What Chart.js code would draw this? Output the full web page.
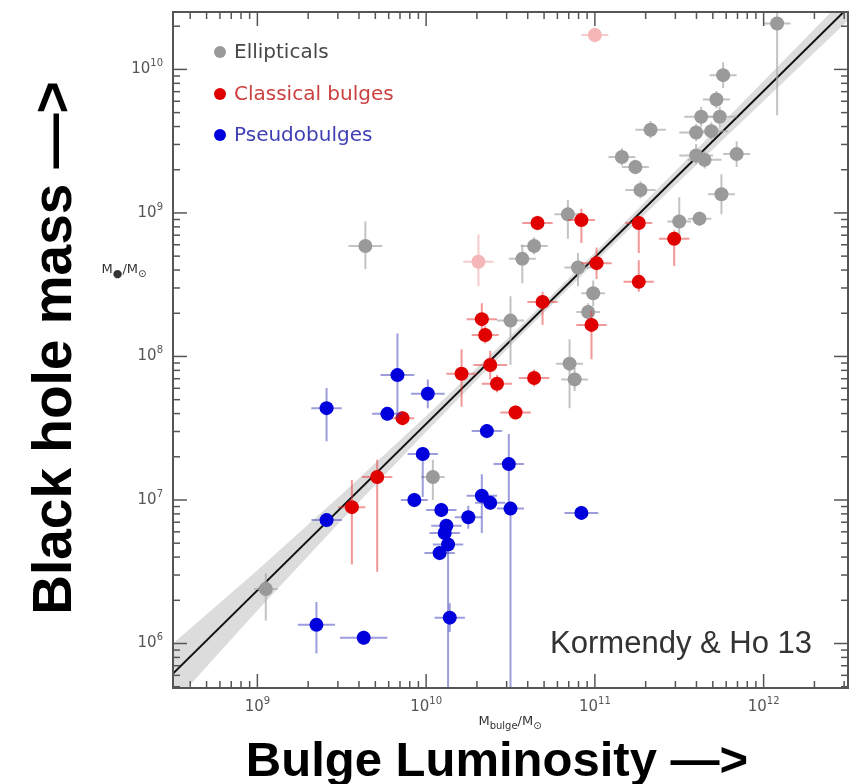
<!DOCTYPE html>
<html>
<head>
<meta charset="utf-8">
<script src="https://cdn.jsdelivr.net/npm/chart.js@4.4.0/dist/chart.umd.min.js"></script>
<style>
  html, body { margin: 0; padding: 0; background: #fff; }
</style>
</head>
<body>
<canvas id="bhChart" width="850" height="784"></canvas>
<script>
// all values are log10 (solar masses)
const ellX  = [12.08, 11.76, 11.72, 11.63, 11.74, 11.33, 11.60, 11.69, 11.84, 11.60, 11.65, 11.16, 11.24, 11.27, 11.75, 11.62, 11.50, 10.84, 10.64, 10.57, 10.90, 10.99, 10.96, 10.50, 10.85, 10.88, 9.64, 10.04, 9.05];
const ellY  = [10.32, 9.96, 9.79, 9.67, 9.67, 9.58, 9.56, 9.57, 9.41, 9.40, 9.37, 9.39, 9.32, 9.16, 9.13, 8.96, 8.94, 8.99, 8.77, 8.68, 8.62, 8.44, 8.31, 8.25, 7.95, 7.84, 8.77, 7.16, 6.38];
const ellXe = [0.08, 0.08, 0.08, 0.10, 0.10, 0.09, 0.10, 0.10, 0.08, 0.10, 0.10, 0.08, 0.08, 0.09, 0.08, 0.07, 0.07, 0.08, 0.08, 0.08, 0.08, 0.07, 0.07, 0.08, 0.08, 0.08, 0.10, 0.07, 0.07];
const ellUp = [0.10, 0.09, 0.06, 0.07, 0.07, 0.06, 0.06, 0.06, 0.09, 0.08, 0.06, 0.06, 0.05, 0.06, 0.14, 0.05, 0.17, 0.10, 0.06, 0.10, 0.10, 0.09, 0.06, 0.17, 0.17, 0.08, 0.17, 0.12, 0.11];
const ellDn = [0.64, 0.09, 0.06, 0.07, 0.07, 0.06, 0.06, 0.06, 0.09, 0.06, 0.06, 0.06, 0.05, 0.06, 0.14, 0.05, 0.10, 0.17, 0.06, 0.17, 0.13, 0.09, 0.06, 0.31, 0.31, 0.08, 0.16, 0.16, 0.22];

// two faded (excluded) classical bulges
const fadX  = [11.00, 10.31];
const fadY  = [10.24, 8.66];
const fadXe = [0.08, 0.09];
const fadUp = [0.05, 0.19];
const fadDn = [0.05, 0.17];

const clsX  = [10.66, 10.92, 11.26, 11.47, 11.01, 11.26, 10.69, 10.33, 10.35, 10.98, 10.38, 10.42, 10.64, 10.53, 10.21, 9.86, 9.71, 9.56];
const clsY  = [8.93, 8.95, 8.93, 8.82, 8.65, 8.52, 8.38, 8.26, 8.15, 8.22, 7.94, 7.81, 7.85, 7.61, 7.88, 7.57, 7.16, 6.95];
const clsXe = [0.09, 0.08, 0.08, 0.09, 0.09, 0.09, 0.09, 0.09, 0.08, 0.09, 0.10, 0.09, 0.09, 0.09, 0.09, 0.07, 0.09, 0.08];
const clsUp = [0.05, 0.08, 0.05, 0.06, 0.11, 0.15, 0.07, 0.11, 0.06, 0.10, 0.10, 0.06, 0.06, 0.05, 0.17, 0.05, 0.12, 0.19];
const clsDn = [0.05, 0.16, 0.21, 0.19, 0.11, 0.07, 0.16, 0.11, 0.06, 0.24, 0.10, 0.06, 0.06, 0.05, 0.23, 0.05, 0.66, 0.40];

const psdX  = [9.83, 10.01, 9.41, 9.77, 10.36, 9.98, 10.49, 9.93, 10.09, 10.33, 10.38, 10.25, 10.50, 10.12, 10.11, 10.13, 10.08, 9.41, 10.14, 9.35, 9.63, 10.92];
const psdY  = [7.87, 7.74, 7.64, 7.60, 7.48, 7.32, 7.25, 7.00, 6.93, 7.03, 6.98, 6.88, 6.94, 6.82, 6.77, 6.69, 6.63, 6.86, 6.18, 6.13, 6.04, 6.91];
const psdXe = [0.10, 0.10, 0.09, 0.09, 0.09, 0.09, 0.09, 0.08, 0.09, 0.09, 0.09, 0.08, 0.08, 0.09, 0.09, 0.09, 0.09, 0.09, 0.09, 0.11, 0.14, 0.10];
const psdUp = [0.29, 0.10, 0.14, 0.05, 0.05, 0.05, 0.21, 0.05, 0.05, 0.15, 0.05, 0.08, 0.05, 0.05, 0.05, 0.05, 0.05, 0.05, 0.10, 0.16, 0.05, 0.05];
const psdDn = [0.30, 0.10, 0.23, 0.05, 0.05, 0.30, 0.30, 0.05, 0.05, 0.26, 0.05, 0.08, 1.50, 0.05, 0.05, 1.50, 0.05, 0.05, 0.10, 0.20, 0.05, 0.05];

// fit line and its grey band
const fitX   = [8.5, 12.5];
const fitY   = [5.79, 10.43];
const bandX  = [8.5, 9.0, 9.5, 10.0, 10.5, 11.0, 11.5, 12.0, 12.5];
const bandHi = [6.00, 6.51, 7.04, 7.585, 8.145, 8.725, 9.32, 9.92, 10.52];
const bandLo = [5.58, 6.23, 6.86, 7.475, 8.075, 8.655, 9.22, 9.78, 10.34];

const xTickExp = [9, 10, 11, 12];
const yTickExp = [6, 7, 8, 9, 10];
const legendNames = ["Ellipticals", "Classical bulges", "Pseudobulges"];

const pts = (xs, ys) => xs.map((x, i) => ({ x: 10 ** x, y: 10 ** ys[i] }));

function seriesSet(label, xs, ys, xe, up, dn, color, barColor, order) {
  return {
    label, data: pts(xs, ys), order,
    lx: xs, ly: ys, xe, up, dn, barColor,
    pointRadius: 7, pointBorderWidth: 0,
    pointBackgroundColor: color, pointHoverRadius: 7
  };
}

const errorBars = {
  id: 'errorBars',
  beforeDatasetDraw(chart, args) {
    const ds = chart.data.datasets[args.index];
    if (!ds.lx) return;
    const { ctx, chartArea: a, scales: { x, y } } = chart;
    ctx.save();
    ctx.beginPath(); ctx.rect(a.left, a.top, a.width, a.height); ctx.clip();
    ctx.strokeStyle = ds.barColor; ctx.lineWidth = 2;
    ds.lx.forEach((lx, i) => {
      const ly = ds.ly[i];
      const px = x.getPixelForValue(10 ** lx), py = y.getPixelForValue(10 ** ly);
      ctx.beginPath();
      ctx.moveTo(x.getPixelForValue(10 ** (lx - ds.xe[i])), py);
      ctx.lineTo(x.getPixelForValue(10 ** (lx + ds.xe[i])), py);
      ctx.moveTo(px, y.getPixelForValue(10 ** (ly + ds.up[i])));
      ctx.lineTo(px, y.getPixelForValue(10 ** (ly - ds.dn[i])));
      ctx.stroke();
    });
    ctx.restore();
  }
};

function supText(ctx, parts, x, y, align) {
  // parts: [text, size, dy]
  let w = 0;
  parts.forEach(p => { ctx.font = p[1] + 'px "DejaVu Sans"'; w += ctx.measureText(p[0]).width; });
  let cx = align === 'right' ? x - w : align === 'center' ? x - w / 2 : x;
  ctx.textAlign = 'left'; ctx.textBaseline = 'middle';
  parts.forEach(p => {
    ctx.font = p[1] + 'px "DejaVu Sans"';
    ctx.fillText(p[0], cx, y + p[2]);
    cx += ctx.measureText(p[0]).width;
  });
}

const frameAndText = {
  id: 'frameAndText',
  afterDraw(chart) {
    const { ctx, chartArea: a, scales: { x, y } } = chart;
    ctx.save();
    ctx.strokeStyle = '#555'; ctx.lineWidth = 1.5;
    const seg = (x1, y1, x2, y2) => { ctx.beginPath(); ctx.moveTo(x1, y1); ctx.lineTo(x2, y2); ctx.stroke(); };
    for (let d = 5; d <= 12; d++) {
      for (let m = 1; m < 10; m++) {
        const v = m * 10 ** d;
        const len = m === 1 ? 14 : 7;
        const px = x.getPixelForValue(v);
        if (px > a.left + 1 && px < a.right - 1) {
          seg(px, a.bottom, px, a.bottom - len);
          seg(px, a.top, px, a.top + len);
        }
        const py = y.getPixelForValue(v);
        if (py > a.top + 1 && py < a.bottom - 1) {
          seg(a.left, py, a.left + len, py);
          seg(a.right, py, a.right - len, py);
        }
      }
    }
    ctx.lineWidth = 2; ctx.strokeStyle = '#555';
    ctx.strokeRect(a.left, a.top, a.width, a.height);

    // tick labels
    ctx.fillStyle = '#555';
    xTickExp.forEach(e => supText(ctx, [['10', 15, 0], [String(e), 10, -6]], x.getPixelForValue(10 ** e), a.bottom + 19, 'center'));
    yTickExp.forEach(e => supText(ctx, [['10', 15, 0], [String(e), 10, -6]], 163, y.getPixelForValue(10 ** e), 'right'));

    // unit labels
    ctx.fillStyle = '#333';
    supText(ctx, [['M', 13, 0], ['\u25CF', 11, 4], ['/M', 13, 0], ['\u2299', 10, 4]], 124, 270, 'center');
    supText(ctx, [['M', 13, 0], ['bulge', 10, 4], ['/M', 13, 0], ['\u2299', 10, 4]], 510, 722, 'center');

    // legend
    const legColors = ['#9a9a9a', '#e00000', '#0000dd'];
    const legText = ['#484848', '#cc4040', '#4040b4'];
    const legY = [52, 94, 135];
    legendNames.forEach((n, i) => {
      ctx.fillStyle = legColors[i];
      ctx.beginPath(); ctx.arc(220, legY[i], 6, 0, Math.PI * 2); ctx.fill();
      ctx.fillStyle = legText[i];
      ctx.font = '20px "DejaVu Sans"';
      ctx.textAlign = 'left'; ctx.textBaseline = 'middle';
      ctx.fillText(n, 234, legY[i] + 1);
    });

    // credit
    ctx.fillStyle = '#333';
    ctx.font = '31px "Liberation Sans"';
    ctx.textAlign = 'right'; ctx.textBaseline = 'alphabetic';
    ctx.fillText('Kormendy & Ho 13', 812, 653);

    // big axis titles
    ctx.fillStyle = '#000';
    ctx.font = 'bold 49px "Liberation Sans"';
    ctx.textAlign = 'center'; ctx.textBaseline = 'alphabetic';
    ctx.fillText('Bulge Luminosity \u2014>', 497, 776);
    ctx.font = 'bold 55px "Liberation Sans"';
    ctx.translate(71, 348);
    ctx.rotate(-Math.PI / 2);
    ctx.fillText('Black hole mass \u2014>', 0, 0);
    ctx.restore();
  }
};

new Chart(document.getElementById('bhChart'), {
  type: 'scatter',
  data: {
    datasets: [
      { label: 'band lo', data: pts(bandX, bandLo), showLine: true, pointRadius: 0, borderWidth: 0, fill: false, order: 20 },
      { label: 'band hi', data: pts(bandX, bandHi), showLine: true, pointRadius: 0, borderWidth: 0, fill: '-1', backgroundColor: '#dcdcdc', order: 19 },
      { label: 'fit', data: pts(fitX, fitY), showLine: true, pointRadius: 0, borderWidth: 2, borderColor: '#111', order: 18 },
      seriesSet('faded', fadX, fadY, fadXe, fadUp, fadDn, '#f4b6b6', 'rgba(240,170,170,0.6)', 5),
      seriesSet(legendNames[0], ellX, ellY, ellXe, ellUp, ellDn, '#9a9a9a', 'rgba(170,170,170,0.7)', 4),
      seriesSet(legendNames[1], clsX, clsY, clsXe, clsUp, clsDn, '#e00000', 'rgba(230,50,50,0.5)', 3),
      seriesSet(legendNames[2], psdX, psdY, psdXe, psdUp, psdDn, '#0000dd', 'rgba(60,60,190,0.5)', 2)
    ]
  },
  options: {
    responsive: false,
    animation: false,
    devicePixelRatio: 1,
    layout: { autoPadding: false, padding: { left: 173, top: 12, right: 2, bottom: 96 } },
    plugins: { legend: { display: false }, tooltip: { enabled: false } },
    scales: {
      x: { type: 'logarithmic', display: false, min: 10 ** 8.5, max: 10 ** 12.5 },
      y: { type: 'logarithmic', display: false, min: 10 ** 5.69, max: 10 ** 10.4 }
    }
  },
  plugins: [errorBars, frameAndText]
});
</script>
</body>
</html>
